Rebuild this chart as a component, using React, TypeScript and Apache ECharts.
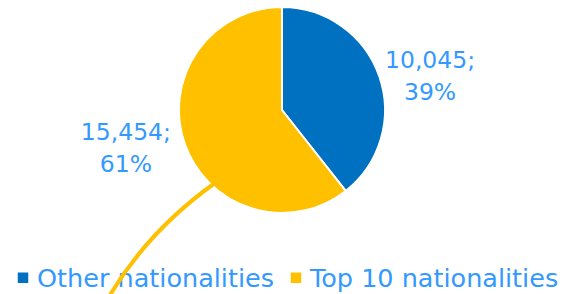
import React, { useEffect, useRef } from "react";
import * as echarts from "echarts";

const categories = ["Other nationalities", "Top 10 nationalities"];
const values = [10045, 15454];
const colors = ["#0070C0", "#FFC000"];

export default function App() {
  const ref = useRef<HTMLDivElement>(null);
  useEffect(() => {
    if (!ref.current) return;
    const chart = echarts.init(ref.current, null, { renderer: "svg" });
    const font = "'DejaVu Sans', Verdana, sans-serif";
    const shifts = [
      [-5, 2],
      [-3, 2.5],
    ];
    chart.setOption({
      animation: false,
      backgroundColor: "#ffffff",
      legend: {
        top: 264.75,
        left: 15.75,
        padding: 0,
        itemWidth: 12.5,
        itemHeight: 12.5,
        itemGap: 14.75,
        icon: "rect",
        textStyle: {
          color: "#3399FF",
          fontSize: 25.5,
          fontFamily: font,
          padding: [0, 0, 0, 2.75],
        },
        data: categories,
      },
      series: [
        {
          type: "pie",
          center: [282, 110],
          radius: 103,
          startAngle: 90,
          clockwise: true,
          itemStyle: { borderColor: "#ffffff", borderWidth: 2 },
          label: {
            show: true,
            position: "outside",
            color: "#3399FF",
            fontSize: 23.5,
            lineHeight: 32,
            fontFamily: font,
            formatter: (p: any) =>
              `${Number(p.value).toLocaleString("en-US")};\n${Math.round(p.percent)}%`,
          },
          labelLine: { show: false, length: 6, length2: 0 },
          labelLayout: (p: any) => {
            const r = p.labelRect;
            const s = shifts[p.dataIndex] || [0, 0];
            return {
              x: r.x + r.width / 2 + s[0],
              y: r.y + r.height / 2 + s[1],
              align: "center",
              verticalAlign: "middle",
            };
          },
          data: categories.map((c, i) => ({
            name: c,
            value: values[i],
            itemStyle: { color: colors[i] },
          })),
        },
      ],
      graphic: [
        {
          type: "bezierCurve",
          z: 100,
          shape: {
            x1: 215,
            y1: 183,
            cpx1: 170,
            cpy1: 215,
            cpx2: 135,
            cpy2: 252,
            x2: 107,
            y2: 300,
          },
          style: { stroke: "#FFC000", lineWidth: 4, fill: null },
        },
      ],
    });
    return () => chart.dispose();
  }, []);
  return (
    <div
      ref={ref}
      style={{ position: "fixed", left: 0, top: 0, width: 562, height: 294 }}
    />
  );
}
